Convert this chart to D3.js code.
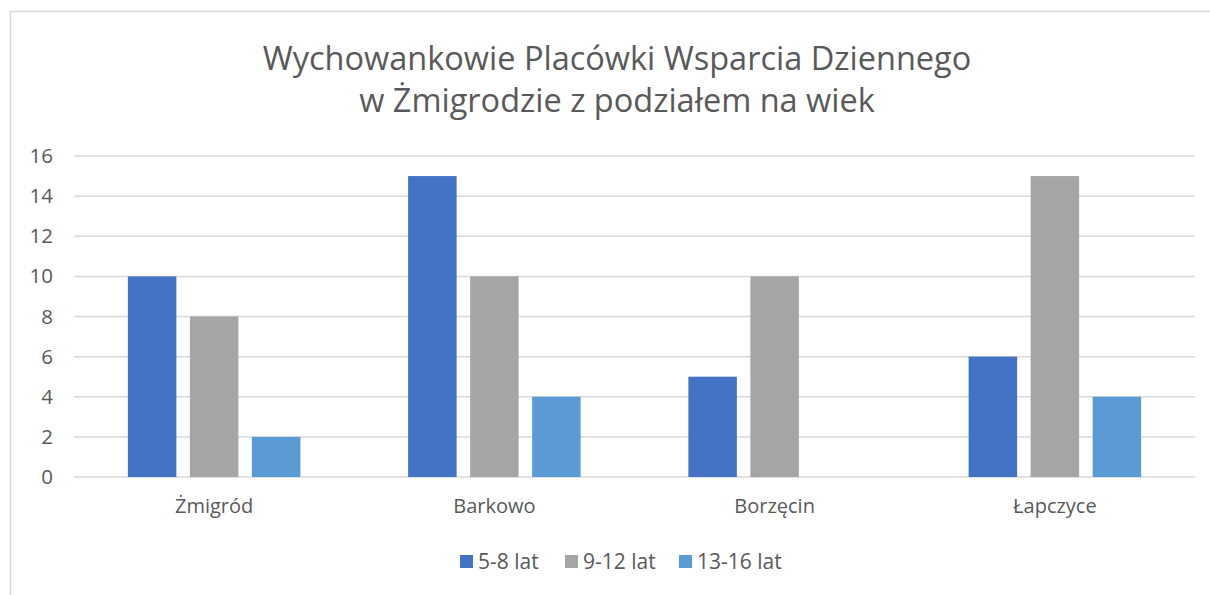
<!DOCTYPE html>
<html>
<head>
<meta charset="utf-8">
<script src="https://cdn.jsdelivr.net/npm/d3@7"></script>
<style>
  body { margin: 0; background: #fff; }
  text { font-family: "Open Sans", sans-serif; fill: #595959; }
</style>
</head>
<body>
<div id="wykres"></div>
<script>
// dane wykresu
const miejscowosci = ["Żmigród", "Barkowo", "Borzęcin", "Łapczyce"];
const grupyWiekowe = ["5-8 lat", "9-12 lat", "13-16 lat"];
const wiek5_8 = [10, 15, 5, 6];
const wiek9_12 = [8, 10, 10, 15];
const wiek13_16 = [2, 4, 0, 4];
const yTicks = [0, 2, 4, 6, 8, 10, 12, 14, 16];
const kolory = ["#4472C4", "#A5A5A5", "#5B9BD5"];

const serie = [wiek5_8, wiek9_12, wiek13_16];

const width = 1210, height = 595;
const lewo = 74, prawo = 1195, gora = 156, dol = 477;

const svg = d3.select("#wykres").append("svg")
    .attr("width", width)
    .attr("height", height);

// ramka
svg.append("rect")
    .attr("x", 10.5)
    .attr("y", 11.5)
    .attr("width", 1210)
    .attr("height", 600)
    .attr("fill", "none")
    .attr("stroke", "#d9d9d9")
    .attr("stroke-width", 1.5);

// tytul
const tytul = svg.append("text")
    .attr("x", 617)
    .attr("y", 70)
    .attr("text-anchor", "middle")
    .style("font-size", "32.5px");
tytul.append("tspan").attr("x", 617).text("Wychowankowie Placówki Wsparcia Dziennego");
tytul.append("tspan").attr("x", 617).attr("dy", 42).text("w Żmigrodzie z podziałem na wiek");

const y = d3.scaleLinear().domain([0, 16]).range([dol, gora]);
const x0 = d3.scaleBand().domain(miejscowosci).range([lewo, prawo]).padding(0);
const grupa = 172.5;
const x1 = d3.scaleBand().domain(grupyWiekowe)
    .range([(x0.bandwidth() - grupa) / 2, (x0.bandwidth() + grupa) / 2])
    .paddingInner(0.218);

// linie siatki
svg.append("g").selectAll("line")
    .data(yTicks)
    .join("line")
    .attr("x1", lewo)
    .attr("x2", prawo)
    .attr("y1", d => y(d))
    .attr("y2", d => y(d))
    .attr("stroke", "#d9d9d9")
    .attr("stroke-width", 1.5);

// os Y
svg.append("g")
    .attr("transform", `translate(${lewo},0)`)
    .call(d3.axisLeft(y).tickValues(yTicks).tickSize(0).tickPadding(21))
    .call(g => g.select(".domain").remove())
    .selectAll("text")
    .style("font-size", "20.5px")
    .style("fill", "#595959");

// slupki
const grupy = svg.append("g").selectAll("g")
    .data(miejscowosci)
    .join("g")
    .attr("transform", d => `translate(${x0(d)},0)`);

grupy.selectAll("rect")
    .data((d, i) => grupyWiekowe.map((s, j) => ({ seria: s, wartosc: serie[j][i], kolor: kolory[j] })))
    .join("rect")
    .attr("x", d => x1(d.seria))
    .attr("width", x1.bandwidth())
    .attr("y", d => y(d.wartosc))
    .attr("height", d => y(0) - y(d.wartosc))
    .attr("fill", d => d.kolor);

// os X
svg.append("g")
    .attr("transform", `translate(0,${dol})`)
    .call(d3.axisBottom(x0).tickSize(0).tickPadding(22))
    .call(g => g.select(".domain").remove())
    .selectAll("text")
    .style("font-size", "20px")
    .style("fill", "#595959");

// legenda
const legendaX = [460, 565, 679];
const legenda = svg.append("g").selectAll("g")
    .data(grupyWiekowe)
    .join("g")
    .attr("transform", (d, i) => `translate(${legendaX[i]},555)`);
legenda.append("rect")
    .attr("width", 13)
    .attr("height", 13)
    .attr("fill", (d, i) => kolory[i]);
legenda.append("text")
    .attr("x", 18)
    .attr("y", 14)
    .style("font-size", "21px")
    .text(d => d);
</script>
</body>
</html>
